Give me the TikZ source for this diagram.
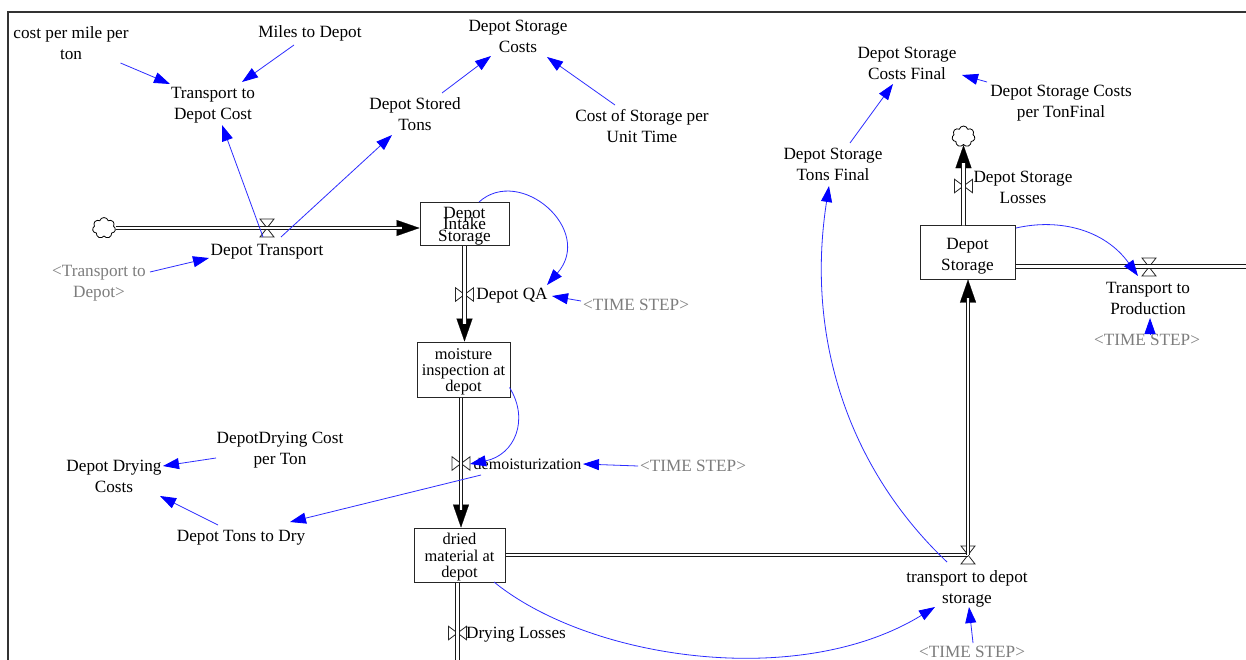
\documentclass[tikz,border=0pt]{standalone}
\usepackage{fontspec}
\setmainfont{Liberation Serif}
\usetikzlibrary{arrows.meta,calc,shapes.symbols}
\definecolor{linkblue}{RGB}{45,45,255}
\definecolor{ghost}{RGB}{125,125,125}
\lineskiplimit=-100pt
\normallineskiplimit=-100pt
\newcommand{\flowtip}[2]{\draw[pipetip] #1 -- #2; \draw[pipe,shorten >=18pt] #1 -- #2;}
\newcommand{\hvalve}[2]{\node[valvebase,minimum width=14pt,minimum height=18pt] (#1) at (#2) {};
  \draw[valveline] (#1.north west) -- (#1.south east) -- (#1.south west) -- (#1.north east) -- cycle;}
\newcommand{\vvalve}[2]{\node[valvebase,minimum width=18pt,minimum height=13.5pt] (#1) at (#2) {};
  \draw[valveline] (#1.north west) -- (#1.south east) -- (#1.north east) -- (#1.south west) -- cycle;}
\tikzset{
  x=1pt,y=-1pt,
  lbl/.style={align=center,inner sep=0pt,text=black,font=\fontsize{17.2}{21}\selectfont},
  shadow/.style={lbl,text=ghost},
  stock/.style={draw=black!85,line width=1pt,inner sep=0pt,align=center,font=\fontsize{16.4}{16.3}\selectfont},
  pipe/.style={draw=black!90,double=white,double distance=2.8pt,line width=.9pt},
  pipetip/.style={draw=black,line width=.2pt,-{Triangle[length=23pt,width=16pt,fill=black]}},
  valvebase/.style={inner sep=0pt,outer sep=0pt},
  valveline/.style={draw=black!85,line width=.8pt},
  link/.style={draw=linkblue,line width=.8pt,-{Triangle[length=16pt,width=11pt,fill=blue,color=blue]}},
  puff/.style={cloud,cloud puffs=7,draw=black,line width=.8pt,inner sep=0pt,minimum width=23pt,minimum height=21pt,aspect=1.1}
}
\begin{document}
\begin{tikzpicture}
\useasboundingbox (0,0) rectangle (1246,660);
\fill[white] (0,0) rectangle (1246,660);
\draw[black!80,line width=1.4pt] (8,660) -- (8,12) -- (1246,12);
% stocks
\node[stock,minimum width=89pt,minimum height=43.5pt,font=\fontsize{17.2}{11.5}\selectfont] (intake) at (464.5,224) {\rule{0pt}{15.5pt}Depot\\Intake\\Storage};
\node[stock,minimum width=93pt,minimum height=55pt] (moist) at (463.5,369.5) {\rule{0pt}{15.5pt}moisture\\inspection at\\depot};
\node[stock,minimum width=91pt,minimum height=54pt] (dried) at (459.5,555) {\rule{0pt}{15.5pt}dried\\material at\\depot};
\node[stock,minimum width=95pt,minimum height=53pt,font=\fontsize{17.2}{21}\selectfont] (ds) at (967.5,252.5) {\rule{0pt}{19.5pt}Depot\\Storage};
% clouds and free ends
\node[puff] (cloudA) at (104,228) {};
\node[puff] (cloudB) at (963.5,136.5) {};
\coordinate (edgeR) at (1246,266.5);
\coordinate (edgeB) at (457.5,660);
\coordinate (mA) at ($(moist.south)+(-2.5,0)$);
% valves
\hvalve{vA}{267,228}
\vvalve{vB}{464.5,294.5}
\vvalve{vC}{461,463.5}
\vvalve{vD}{457.5,633}
\hvalve{vE}{968,555}
\vvalve{vF}{963.5,186}
\hvalve{vG}{1149,267}
% pipes
\flowtip{(cloudA.east)}{(cloudA.east -| intake.west)}
\flowtip{(intake.south)}{(intake.south |- moist.north)}
\flowtip{(mA)}{(mA |- dried.north)}
\draw[pipe] (dried.south -| edgeB) -- (edgeB);
\draw[pipe] (dried.east) -- (vE.center);
\flowtip{(vE.center)}{(vE.center |- ds.south)}
\flowtip{(ds.north -| cloudB)}{(cloudB.south)}
\draw[pipe] (ds.east |- edgeR) -- (edgeR);
% labels
\node[lbl] (cost) at (71,43) {cost per mile per\\ton};
\node[lbl] (miles) at (310,33) {Miles to Depot};
\node[lbl] (tdc) at (213,105) {Transport to\\Depot Cost};
\node[lbl] (dsc) at (518,36) {Depot Storage\\Costs};
\node[lbl] (dst) at (415,114) {Depot Stored\\Tons};
\node[lbl] (csu) at (642,126) {Cost of Storage per\\Unit Time};
\node[lbl] (dt) at (267,252) {Depot Transport};
\node[shadow] (ttd) at (99,283) {<Transport to\\Depot>};
\node[lbl] (qa) at (512,296) {Depot QA};
\node[shadow] (tsA) at (636,305) {<TIME STEP>};
\node[lbl,font=\fontsize{16}{21}\selectfont] (demo) at (527.5,464) {demoisturization};
\node[shadow] (tsB) at (693,466) {<TIME STEP>};
\node[lbl] (ddc) at (114,476) {Depot Drying\\Costs};
\node[lbl] (dcp) at (280,450) {DepotDrying Cost\\per Ton};
\node[lbl] (dtd) at (241,538) {Depot Tons to Dry};
\node[lbl] (dl) at (516,635) {Drying Losses};
\node[lbl] (tds) at (967,588.5) {transport to depot\\storage};
\node[shadow] (tsC) at (972,651.5) {<TIME STEP>};
\node[lbl] (dstf) at (833,164) {Depot Storage\\Tons Final};
\node[lbl] (dscf) at (907,63) {Depot Storage\\Costs Final};
\node[lbl] (dcpt) at (1061,103) {Depot Storage Costs\\per TonFinal};
\node[lbl] (dsl) at (1023,187) {Depot Storage\\Losses};
\node[lbl] (ttp) at (1148,298) {Transport to\\Production};
\node[shadow] (tsD) at (1147,340) {<TIME STEP>};
% links
\draw[link] ($(cost)+(49.5,20)$) -- ($(tdc)+(-43,-21)$);
\draw[link] ($(miles)+(-16,12)$) -- ($(tdc)+(29,-23)$);
\draw[link] ($(vA)+(-4,9)$) -- ($(tdc)+(9,20)$);
\draw[link] ($(vA)+(14,9)$) -- ($(dst)+(-23,21)$);
\draw[link] ($(dst)+(27,-21)$) -- ($(dsc)+(-27,20)$);
\draw[link] ($(csu)+(-27,-21)$) -- ($(dsc)+(29,21)$);
\draw[link] ($(ttd)+(51,-11)$) -- ($(dt)+(-58,6)$);
\draw[link] ($(intake)+(14.5,-22)$) .. controls +(41,-37) and +(48,-55) .. ($(qa)+(35,-11)$);
\draw[link] ($(tsA)+(-55,-4)$) -- ($(qa)+(40,0)$);
\draw[link] ($(moist)+(46,18)$) .. controls +(20,32) and +(45,-9) .. ($(demo)+(-57.5,0)$);
\draw[link] ($(tsB)+(-55,0)$) -- ($(demo)+(55.5,0)$);
\draw[link] ($(demo)+(-46.5,11)$) -- ($(dtd)+(49,-16)$);
\draw[link] ($(dtd)+(-23,-13)$) -- ($(ddc)+(46,20)$);
\draw[link] ($(dcp)+(-64,8)$) -- ($(ddc)+(49,-10)$);
\draw[link] ($(dried)+(34.5,27)$) .. controls +(96,78) and +(-135,83) .. ($(tds)+(-32,18.5)$);
\draw[link] ($(vE)+(-21,7)$) .. controls +(-97,-92) and +(-24,154) .. ($(dstf)+(-4,22)$);
\draw[link] ($(tsC)+(1,-8.5)$) -- ($(tds)+(2,18.5)$);
\draw[link] ($(dstf)+(17,-21)$) -- ($(dscf)+(-14,21)$);
\draw[link] ($(dcpt)+(-74,-21)$) -- ($(dscf)+(55,12)$);
\draw[link] ($(ds)+(48.5,-24.5)$) .. controls +(44,-10) and +(-33,-46) .. ($(ttp)+(-10,-22)$);
\draw[link] ($(tsD)+(3,-6)$) -- ($(ttp)+(2,20)$);
\end{tikzpicture}
\end{document}
